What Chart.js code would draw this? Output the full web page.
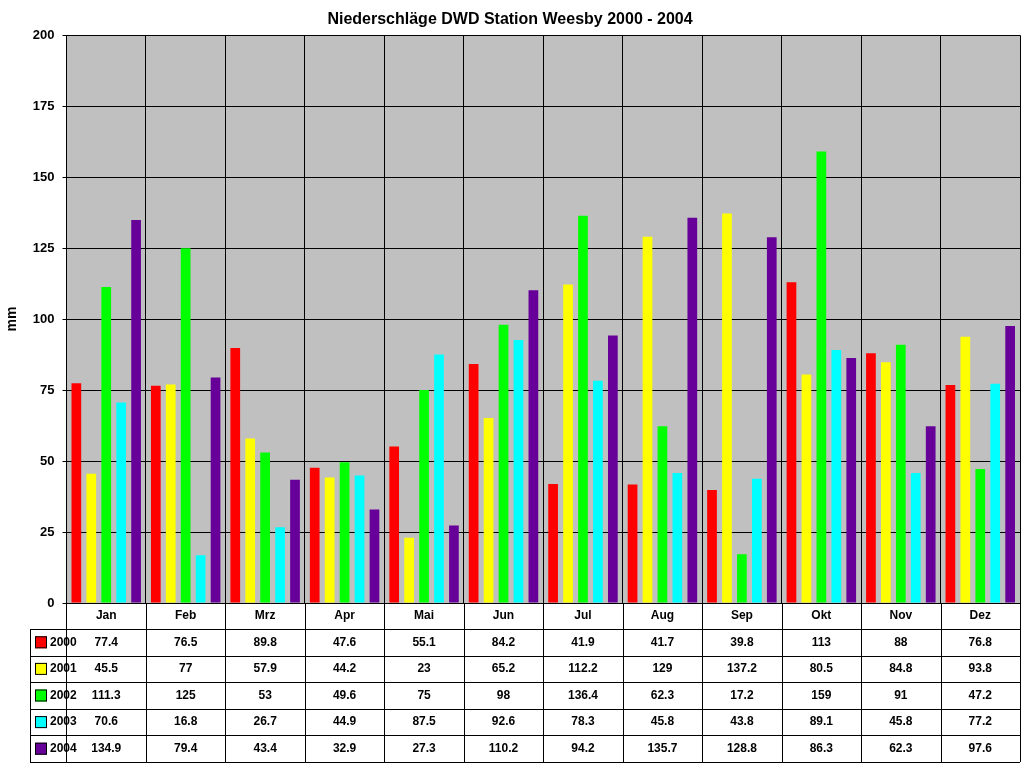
<!DOCTYPE html>
<html><head><meta charset="utf-8">
<script src="https://cdn.jsdelivr.net/npm/chart.js@4"></script>
<style>body{margin:0;background:#fff}canvas{display:block}</style>
</head><body>
<div style="width:1024px;height:768px"><canvas id="c"></canvas></div>
<script>
// Niederschläge DWD Station Weesby, mm per month
const months = ['Jan','Feb','Mrz','Apr','Mai','Jun','Jul','Aug','Sep','Okt','Nov','Dez'];
const years = ['2000','2001','2002','2003','2004'];
const colors = ['#ff0000','#ffff00','#00ff00','#00ffff','#660099'];
const r2000 = [77.4,76.5,89.8,47.6,55.1,84.2,41.9,41.7,39.8,113,88,76.8];
const r2001 = [45.5,77,57.9,44.2,23,65.2,112.2,129,137.2,80.5,84.8,93.8];
const r2002 = [111.3,125,53,49.6,75,98,136.4,62.3,17.2,159,91,47.2];
const r2003 = [70.6,16.8,26.7,44.9,87.5,92.6,78.3,45.8,43.8,89.1,45.8,77.2];
const r2004 = [134.9,79.4,43.4,32.9,27.3,110.2,94.2,135.7,128.8,86.3,62.3,97.6];
const series = [r2000, r2001, r2002, r2003, r2004];

const bgPlugin = {
  id: 'bg',
  beforeDraw(chart) {
    const a = chart.chartArea, ctx = chart.ctx;
    ctx.save();
    ctx.fillStyle = '#c0c0c0';
    ctx.fillRect(a.left, a.top, a.right - a.left, a.bottom - a.top);
    ctx.restore();
  }
};

// data table under the plot
const tablePlugin = {
  id: 'table',
  afterDraw(chart) {
    const ctx = chart.ctx, a = chart.chartArea, x = chart.scales.x;
    const left = 30, top = a.bottom, headH = 26, rowH = 26.6;
    const bottom = top + headH + rowH * 5;
    ctx.save();
    ctx.strokeStyle = '#000';
    ctx.lineWidth = 1;
    ctx.font = 'bold 12px Arial, "Liberation Sans"';
    ctx.textAlign = 'center';
    ctx.textBaseline = 'middle';
    ctx.fillStyle = '#000';
    const step = (a.right - a.left) / months.length;
    // vertical lines
    for (let i = 0; i <= months.length; i++) {
      const xx = Math.round(a.left + i * step) + 0.5;
      ctx.beginPath(); ctx.moveTo(xx, top); ctx.lineTo(xx, bottom); ctx.stroke();
    }
    ctx.beginPath(); ctx.moveTo(left + 0.5, top + headH); ctx.lineTo(left + 0.5, bottom); ctx.stroke();
    // horizontal lines
    for (let r = 0; r <= 5; r++) {
      const yy = Math.round(top + headH + r * rowH) + 0.5;
      ctx.beginPath(); ctx.moveTo(left, yy); ctx.lineTo(a.right, yy); ctx.stroke();
    }
    months.forEach((m, i) => {
      ctx.fillText(m, x.getPixelForValue(i), top + headH / 2);
    });
    series.forEach((s, r) => {
      const cy = top + headH + r * rowH + rowH / 2;
      ctx.fillStyle = colors[r];
      ctx.fillRect(left + 5, cy - 6, 12, 12);
      ctx.strokeRect(left + 5.5, cy - 5.5, 11, 11);
      ctx.fillStyle = '#000';
      ctx.textAlign = 'left';
      ctx.fillText(years[r], left + 20, cy);
      ctx.textAlign = 'center';
      s.forEach((v, i) => ctx.fillText(String(v), x.getPixelForValue(i), cy));
    });
    ctx.restore();
  }
};

new Chart(document.getElementById('c'), {
  type: 'bar',
  data: {
    labels: months,
    datasets: years.map((y, i) => ({
      label: y,
      data: series[i],
      backgroundColor: colors[i],
      borderWidth: 0,
      categoryPercentage: 0.94,
      barPercentage: 0.65
    }))
  },
  options: {
    responsive: true,
    maintainAspectRatio: false,
    animation: false,
    layout: { padding: { top: 0, right: 4, bottom: 165, left: 0 } },
    plugins: {
      legend: { display: false },
      tooltip: { enabled: false },
      title: {
        display: true,
        text: 'Niederschläge DWD Station Weesby 2000 - 2004',
        color: '#000',
        font: { family: 'Arial, "Liberation Sans"', size: 16, weight: 'bold' },
        padding: { top: 10, bottom: 6 }
      }
    },
    scales: {
      x: {
        ticks: { display: false },
        grid: { color: '#000', offset: true, drawTicks: false },
        border: { color: '#000' }
      },
      y: {
        min: 0, max: 200,
        ticks: { stepSize: 25, color: '#000', font: { family: 'Arial, "Liberation Sans"', size: 13, weight: 'bold' }, padding: 8 },
        grid: { color: '#000', drawTicks: true, tickLength: 4 },
        border: { color: '#000' },
        title: { display: true, text: 'mm', color: '#000', font: { family: 'Arial, "Liberation Sans"', size: 14, weight: 'bold' } }
      }
    }
  },
  plugins: [bgPlugin, tablePlugin]
});
</script>
</body></html>
